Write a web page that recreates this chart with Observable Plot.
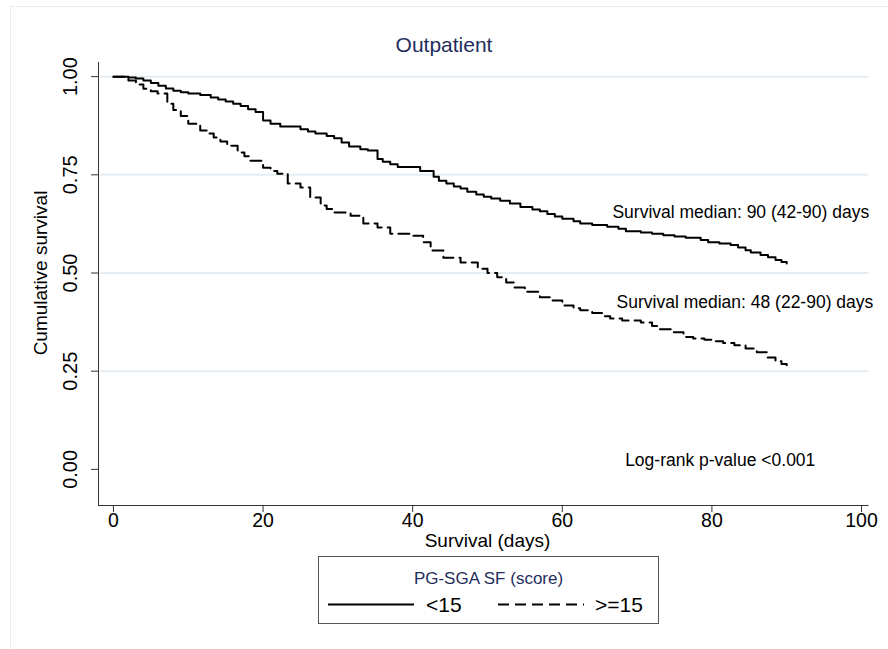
<!DOCTYPE html>
<html><head><meta charset="utf-8">
<script src="https://cdn.jsdelivr.net/npm/d3@7"></script>
<script src="https://cdn.jsdelivr.net/npm/@observablehq/plot@0.6"></script>
<style>
body{margin:0;background:#fff;font-family:"Liberation Sans",Arial,Helvetica,sans-serif;}
#wrap{position:relative;width:888px;height:649px;overflow:hidden;background:#fff;}
#frame{position:absolute;left:10px;top:6px;width:900px;height:700px;border:1px solid #e8eef1;}
#chart{position:absolute;left:0;top:0;}
#title{position:absolute;left:0;top:33px;width:888px;text-align:center;font-size:21px;line-height:23px;color:#1f2d5c;}
#legend{position:absolute;left:318px;top:556px;width:339px;height:66px;border:1px solid #555;background:#fff;}
#legend .lt{position:absolute;left:0;width:339px;top:12px;text-align:center;font-size:17px;line-height:20px;color:#1f2d5c;}
#legend .lab{position:absolute;top:36px;font-size:21px;line-height:24px;color:#000;}
#legend svg{position:absolute;left:0;top:0;}
</style></head>
<body>
<div id="wrap">
  <div id="frame"></div>
  <div id="chart"></div>
  <div id="title"></div>
  <div id="legend"></div>
</div>
<script>
// ---- data ----
const titleText = "Outpatient";
const xLabel = "Survival (days)";
const yLabel = "Cumulative survival";
const legendTitle = "PG-SGA SF (score)";
const groups = ["<15", ">=15"];

const daysLow = [0,2,3,4,5,6,7,8,9,10,11.6,13,14,15,16,17,18,19,20,21,22.3,25,26,27,28.5,29.5,30.5,31.5,33,34,35.3,36,37,38,41,42.8,43.5,44.5,45.5,46.4,47.3,48.5,49.5,50.5,51.7,53,54.4,56,57,58,59,60,61.5,62.4,64,66,67.5,68.5,70.5,72,73.5,75,76.5,78.5,79.5,81,82.5,83.5,84.5,85.2,86.5,87.5,88.5,89.3,90];
const survLow = [1.0,0.998,0.995,0.99,0.984,0.977,0.97,0.964,0.96,0.957,0.953,0.947,0.942,0.937,0.931,0.925,0.917,0.91,0.888,0.88,0.873,0.866,0.86,0.855,0.849,0.843,0.832,0.822,0.815,0.812,0.79,0.783,0.777,0.77,0.76,0.745,0.735,0.728,0.72,0.715,0.707,0.70,0.694,0.69,0.684,0.677,0.668,0.662,0.657,0.65,0.644,0.638,0.632,0.626,0.622,0.618,0.613,0.606,0.603,0.60,0.596,0.593,0.59,0.584,0.578,0.575,0.571,0.565,0.558,0.552,0.546,0.54,0.533,0.528,0.524];

const daysHigh = [0,1.5,2,3,4,5,5.9,7.2,8,9,10,11.6,12.5,13.4,14.3,15.2,16.6,17.5,18.3,20,21,21.9,23.3,25,26.3,27.7,28.5,29.4,31.7,33.4,35.3,37,39.7,41.4,42.4,44.1,46.4,48.7,50,51.3,52.5,53.5,55,57,58.5,60,61.5,62.4,64,65.5,66.4,68,70.5,72,73,74.5,76.2,77.5,79,80,81.5,83,84.5,86,87.4,88.5,89.3,90];
const survHigh = [1.0,0.995,0.99,0.98,0.969,0.963,0.957,0.931,0.915,0.90,0.88,0.863,0.855,0.845,0.835,0.824,0.807,0.797,0.786,0.768,0.76,0.753,0.728,0.718,0.692,0.672,0.663,0.654,0.646,0.626,0.616,0.60,0.595,0.578,0.557,0.539,0.527,0.511,0.50,0.489,0.476,0.463,0.452,0.438,0.43,0.417,0.41,0.405,0.398,0.39,0.384,0.379,0.374,0.365,0.357,0.349,0.337,0.333,0.33,0.326,0.322,0.316,0.308,0.298,0.285,0.275,0.268,0.265];

const xTicks = [0,20,40,60,80,100];
const yTicks = [0,0.25,0.5,0.75,1];
const gridTicks = [0.25,0.5,0.75,1];

const noteText = ["Survival median: 90 (42-90) days","Survival median: 48 (22-90) days","Log-rank p-value <0.001"];
const noteX = [66.7, 67.25, 68.4];
const noteY = [0.639, 0.41, 0.008];

// ---- build tables ----
const toRows = (ds, ss, g) => ds.slice(0, Math.min(ds.length, ss.length)).map((t,i)=>({t, s: ss[i], g}));
const low = toRows(daysLow, survLow, groups[0]);
const high = toRows(daysHigh, survHigh, groups[1]);
const notes = noteText.map((text,i)=>({text, x: noteX[i], y: noteY[i]}));

const xDomain = [-2, 101];
const yDomain = [-0.092, 1.036];
const H = 600;
const font = '"Liberation Sans", Arial, Helvetica, sans-serif';
const dash = "11,6";

const chart = Plot.plot({
  width: 888, height: H,
  marginLeft: 98, marginRight: 19.5, marginTop: 62, marginBottom: H - 505,
  x: {domain: xDomain},
  y: {domain: yDomain},
  style: {fontFamily: font, background: "transparent", color: "#000", overflow: "visible"},
  marks: [
    Plot.ruleY(gridTicks, {y: d=>d, x1: ()=>xDomain[0] + 0.25, x2: ()=>xDomain[1], stroke: "#e4edf1", strokeWidth: 2}),
    Plot.ruleX([xDomain[0]], {x: d=>d, y1: ()=>yDomain[0], y2: ()=>yDomain[1], stroke: "#333", strokeWidth: 1}),
    Plot.ruleY([yDomain[0]], {y: d=>d, x1: ()=>xDomain[0], x2: ()=>xDomain[1], stroke: "#333", strokeWidth: 1}),
    Plot.axisX({ticks: xTicks, tickSize: 7, tickPadding: 1, fontSize: 19.5, label: null, stroke: "#333"}),
    Plot.axisY({ticks: yTicks, tickSize: 7, tickFormat: () => "", label: null, stroke: "#333"}),
    Plot.text(yTicks, {x: ()=>xDomain[0], y: d=>d, text: d=>d3.format(".2f")(d), rotate: -90, dx: -28, textAnchor: "middle", lineAnchor: "middle", fontSize: 20, fill: "#000"}),
    Plot.text([yLabel], {x: ()=>xDomain[0], y: ()=>0.5, text: d=>d, rotate: -90, dx: -58, textAnchor: "middle", lineAnchor: "middle", fontSize: 19, fill: "#000"}),
    Plot.text([xLabel], {x: ()=>(xTicks[0]+xTicks[xTicks.length-1])/2, y: ()=>yDomain[0], text: d=>d, dy: 35, textAnchor: "middle", lineAnchor: "middle", fontSize: 19, fill: "#000"}),
    Plot.line(low, {x: "t", y: "s", curve: "step-after", stroke: "#000", strokeWidth: 2}),
    Plot.line(high, {x: "t", y: "s", curve: "step-after", stroke: "#000", strokeWidth: 2, strokeDasharray: dash}),
    Plot.text(notes, {x: "x", y: "y", text: "text", textAnchor: "start", lineAnchor: "bottom", fontSize: 17.5, fill: "#000"})
  ]
});
document.getElementById("chart").appendChild(chart);
document.getElementById("title").textContent = titleText;

// legend
const lg = document.getElementById("legend");
lg.innerHTML = `<div class="lt">${legendTitle}</div>
<svg width="339" height="66"><line x1="9" x2="95" y1="47.5" y2="47.5" stroke="#000" stroke-width="2"/>
<line x1="179" x2="265" y1="47.5" y2="47.5" stroke="#000" stroke-width="2" stroke-dasharray="${dash}"/></svg>
<div class="lab" style="left:107px"></div><div class="lab" style="left:276px"></div>`;
const labs = lg.querySelectorAll(".lab");
labs[0].textContent = groups[0];
labs[1].textContent = groups[1];
</script>
</body></html>
